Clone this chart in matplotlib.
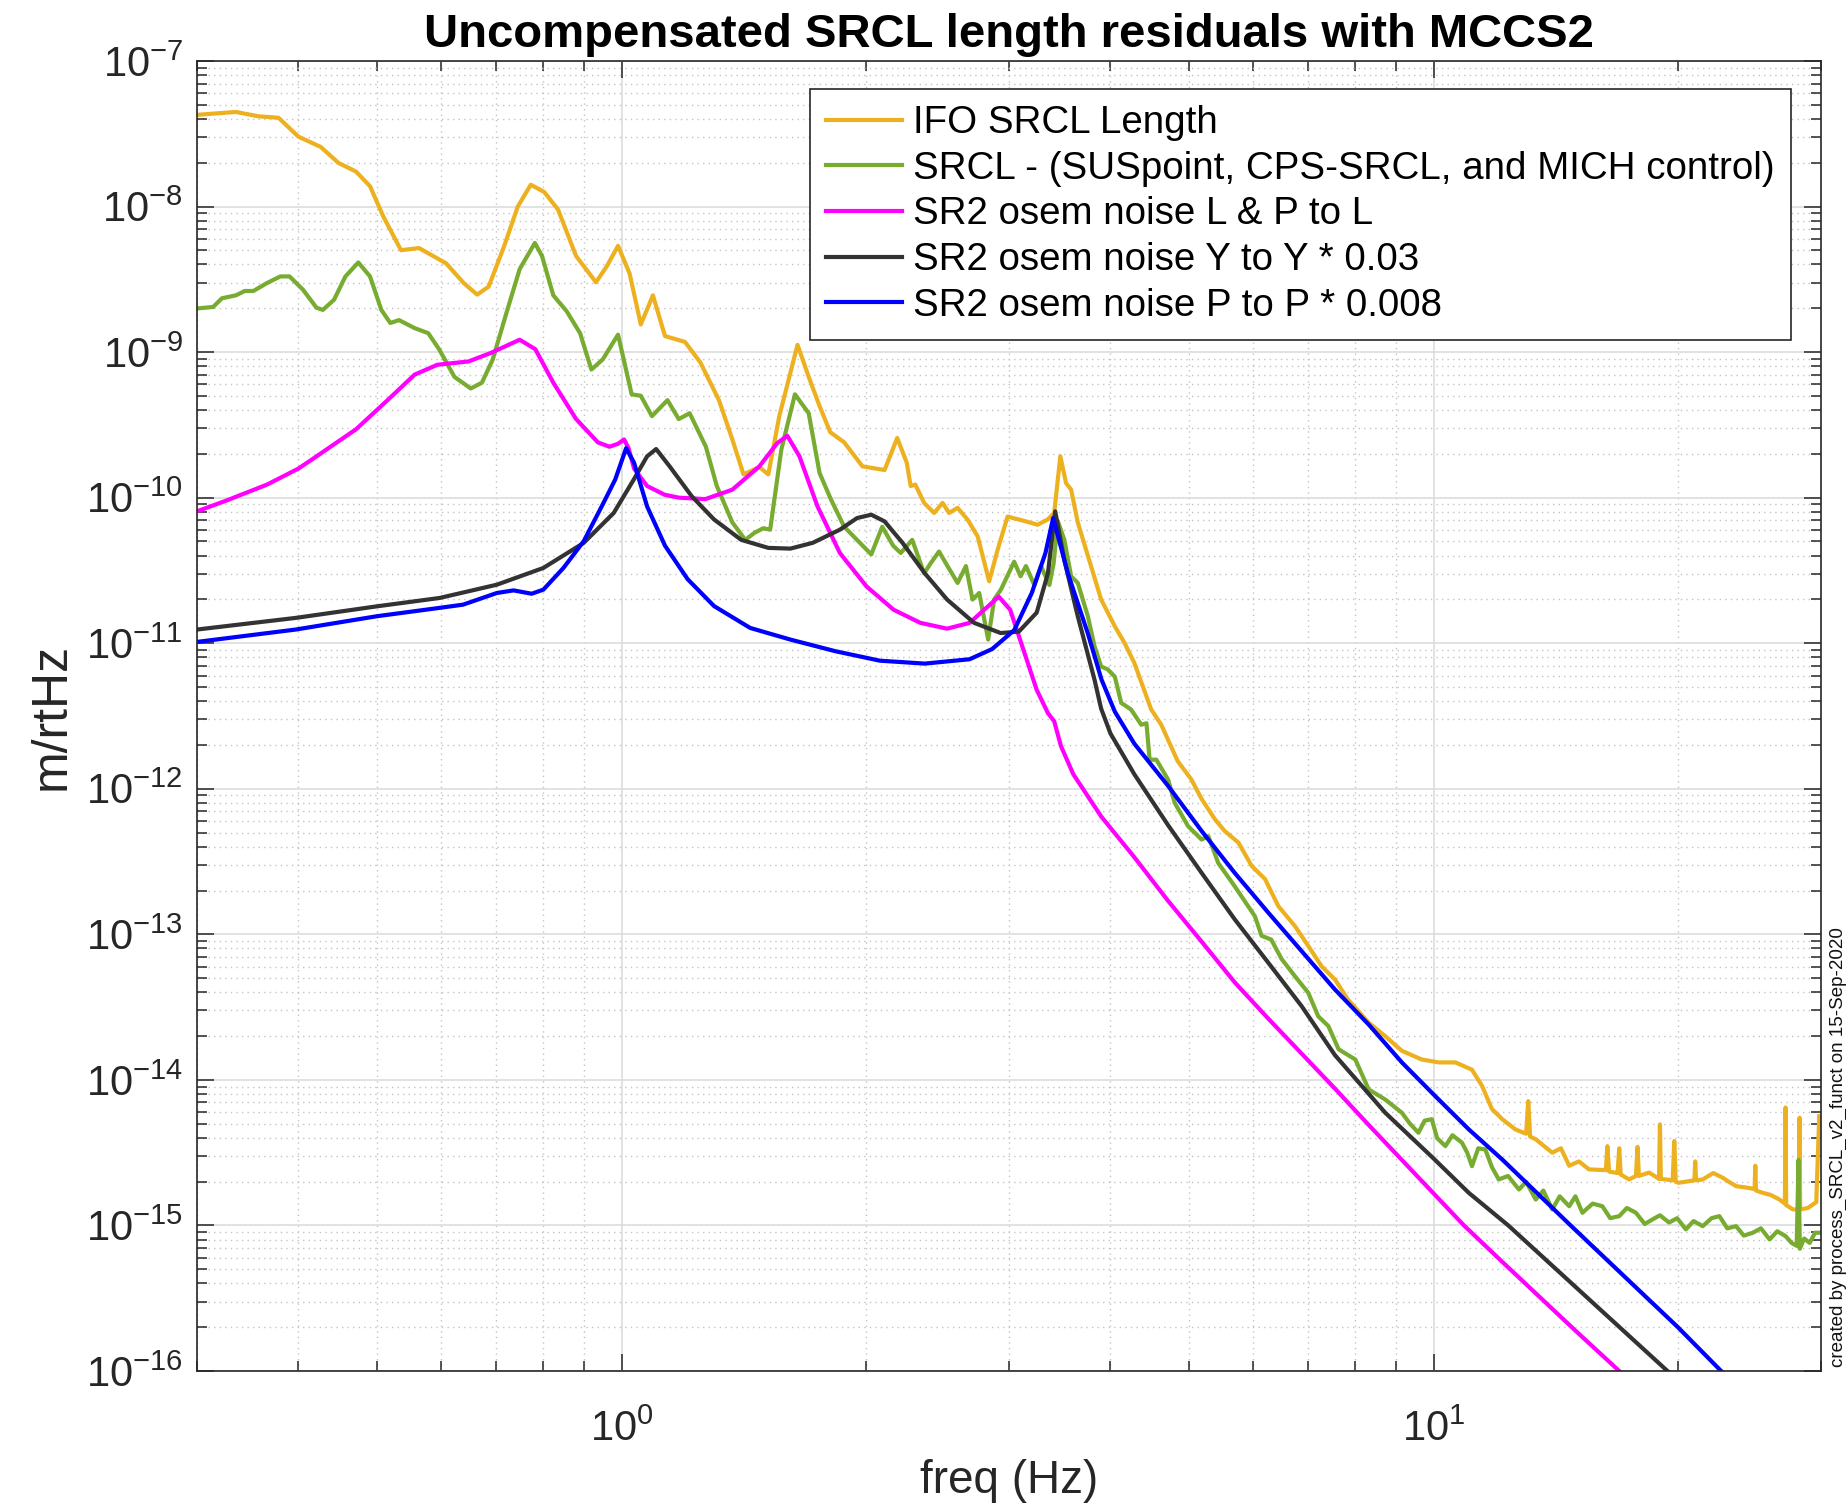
import numpy as np
import matplotlib
matplotlib.use("Agg")
import matplotlib.pyplot as plt
from matplotlib.ticker import FixedLocator, FuncFormatter, NullFormatter

# ---------------- data (frequency in Hz, value as log10 of m/rtHz) ----------------
ifo_f = [0.30, 0.335, 0.357, 0.378, 0.40, 0.426, 0.448, 0.471, 0.49, 0.509, 0.535, 0.563, 0.608,
         0.639, 0.664, 0.686, 0.717, 0.745, 0.773, 0.803, 0.835, 0.879, 0.93, 0.959, 0.99, 1.023,
         1.056, 1.093, 1.131, 1.197, 1.25, 1.318, 1.369, 1.413, 1.478, 1.516, 1.564, 1.647, 1.70,
         1.753, 1.807, 1.88, 1.98, 2.108, 2.185, 2.245, 2.27, 2.30, 2.358, 2.426, 2.485, 2.531,
         2.593, 2.667, 2.745, 2.836, 2.904, 2.988, 3.133, 3.253, 3.348, 3.41, 3.47, 3.527, 3.578,
         3.646, 3.752, 3.896, 4.05, 4.163, 4.28, 4.49, 4.62, 4.84, 5.03, 5.18, 5.38, 5.53, 5.75,
         5.97, 6.20, 6.44, 6.75, 7.01, 7.28, 7.56, 7.85, 8.32, 8.72, 9.14, 9.67, 10.15, 10.64,
         11.15, 11.47, 11.8, 12.15, 12.61, 13.0, 13.08, 13.15, 13.36, 14.0, 14.35, 14.69, 15.1,
         15.54, 16.3, 16.37, 16.45, 16.85, 16.93, 17.0, 17.41, 17.75, 17.83, 17.9, 18.43, 18.95,
         19.0, 19.05, 19.7, 19.79, 19.87, 20.03, 20.95, 21.0, 21.05, 21.45, 22.1, 22.7, 23.1,
         23.58, 24.3, 24.85, 24.9, 24.95, 25.43, 26.0, 26.67, 27.08, 27.13, 27.18, 27.7, 28.18,
         28.23, 28.28, 28.9, 29.6, 29.85]
ifo_exp = [-7.37, -7.35, -7.38, -7.39, -7.52, -7.59, -7.70, -7.76, -7.86, -8.07, -8.30, -8.285, -8.39,
           -8.525, -8.605, -8.55, -8.27, -8.00, -7.85, -7.90, -8.02, -8.34, -8.52, -8.41, -8.27, -8.46,
           -8.81, -8.61, -8.89, -8.93, -9.07, -9.33, -9.60, -9.84, -9.79, -9.84, -9.44, -8.95, -9.17,
           -9.37, -9.55, -9.62, -9.785, -9.81, -9.59, -9.76, -9.92, -9.91, -10.036, -10.105, -10.036, -10.105,
           -10.07, -10.15, -10.266, -10.575, -10.36, -10.13, -10.16, -10.186, -10.15, -10.105, -9.716, -9.90, -9.945,
           -10.17, -10.40, -10.70, -10.884, -10.998, -11.135, -11.455, -11.56, -11.81, -11.935, -12.07, -12.21, -12.29, -12.37,
           -12.53, -12.62, -12.807, -12.944, -13.08, -13.22, -13.31, -13.45, -13.607, -13.70, -13.80, -13.86, -13.88, -13.88,
           -13.93, -14.04, -14.20, -14.27, -14.34, -14.37, -14.146, -14.39, -14.408, -14.50, -14.47, -14.59, -14.56,
           -14.615, -14.62, -14.455, -14.63, -14.64, -14.47, -14.65, -14.684, -14.66, -14.46, -14.66, -14.637, -14.68,
           -14.306, -14.68, -14.69, -14.42, -14.70, -14.707, -14.69, -14.56, -14.69, -14.684, -14.64, -14.672, -14.70,
           -14.73, -14.74, -14.75, -14.59, -14.76, -14.776, -14.79, -14.822, -14.85, -14.19, -14.86, -14.89, -14.89,
           -14.26, -14.89, -14.88, -14.84, -14.25]

srcl_f = [0.30, 0.314, 0.322, 0.335, 0.3435, 0.352, 0.366, 0.38, 0.39, 0.405, 0.421, 0.4287, 0.4425,
          0.457, 0.474, 0.49, 0.506, 0.519, 0.532, 0.556, 0.578, 0.596, 0.6225, 0.652, 0.673, 0.694,
          0.7215, 0.749, 0.782, 0.798, 0.824, 0.856, 0.889, 0.918, 0.948, 0.99, 1.029, 1.056, 1.09,
          1.139, 1.176, 1.213, 1.27, 1.31, 1.369, 1.42, 1.459, 1.495, 1.524, 1.573, 1.635, 1.70,
          1.753, 1.81, 1.88, 1.95, 2.03, 2.094, 2.16, 2.207, 2.28, 2.358, 2.403, 2.46, 2.52, 2.593,
          2.655, 2.705, 2.757, 2.828, 2.876, 2.933, 3.044, 3.10, 3.148, 3.223, 3.285, 3.364, 3.405,
          3.445, 3.51, 3.578, 3.646, 3.752, 3.823, 3.896, 3.97, 4.05, 4.124, 4.24, 4.365, 4.43,
          4.47, 4.556, 4.71, 4.80, 4.985, 5.18, 5.28, 5.43, 5.69, 5.91, 6.025, 6.14, 6.31, 6.50,
          6.75, 7.01, 7.21, 7.42, 7.64, 8.01, 8.32, 8.72, 9.14, 9.35, 9.58, 9.75, 9.95, 10.1, 10.34,
          10.55, 10.84, 11.0, 11.15, 11.35, 11.58, 11.8, 12.03, 12.35, 12.74, 13.0, 13.36, 13.65,
          14.0, 14.3, 14.69, 14.95, 15.25, 15.7, 16.14, 16.5, 16.93, 17.3, 17.75, 18.2, 18.6, 19.0,
          19.5, 19.95, 20.45, 20.9, 21.45, 22.0, 22.49, 23.0, 23.58, 24.1, 24.73, 25.3, 25.93, 26.5,
          27.13, 27.6, 28.0, 28.15, 28.25, 28.6, 29.05, 29.5, 30.0]
srcl_exp = [-8.70, -8.69, -8.63, -8.61, -8.58, -8.58, -8.525, -8.48, -8.48, -8.57, -8.695, -8.71, -8.64,
            -8.48, -8.384, -8.48, -8.71, -8.80, -8.78, -8.835, -8.87, -8.98, -9.17, -9.25, -9.21, -9.05,
            -8.73, -8.43, -8.25, -8.34, -8.61, -8.72, -8.87, -9.12, -9.05, -8.88, -9.29, -9.30, -9.44,
            -9.33, -9.46, -9.42, -9.65, -9.92, -10.17, -10.29, -10.24, -10.21, -10.22, -9.67, -9.29, -9.42,
            -9.83, -10.01, -10.20, -10.29, -10.39, -10.20, -10.33, -10.38, -10.29, -10.52, -10.45, -10.37, -10.47, -10.586,
            -10.47, -10.70, -10.655, -10.975, -10.70, -10.63, -10.44, -10.54, -10.47, -10.60, -10.47, -10.60, -10.45,
            -10.16, -10.29, -10.54, -10.586, -10.815, -11.02, -11.16, -11.18, -11.23, -11.41, -11.455, -11.56, -11.55,
            -11.80, -11.80, -11.937, -12.097, -12.257, -12.349, -12.326, -12.51, -12.67, -12.807, -12.876, -13.01, -13.036, -13.17,
            -13.288, -13.402, -13.563, -13.63, -13.79, -13.86, -14.066, -14.135, -14.226, -14.30, -14.363, -14.28, -14.27, -14.40, -14.455,
            -14.38, -14.432, -14.50, -14.593, -14.47, -14.478, -14.60, -14.684, -14.66, -14.753, -14.70, -14.822, -14.76,
            -14.89, -14.80, -14.868, -14.80, -14.913, -14.85, -14.868, -14.95, -14.936, -14.88, -14.913, -14.99, -14.959, -14.93,
            -14.98, -14.95, -15.027, -14.97, -15.005, -14.95, -14.936, -15.02, -15.005, -15.07, -15.05, -15.02, -15.096, -15.04,
            -15.073, -15.12, -15.14, -14.55, -15.16, -15.09, -15.12, -15.05, -15.05]

lp_f = [0.30, 0.326, 0.366, 0.40, 0.415, 0.471, 0.515, 0.556, 0.593, 0.648, 0.69, 0.749, 0.783,
        0.824, 0.879, 0.935, 0.966, 0.99, 1.007, 1.02, 1.036, 1.075, 1.13, 1.176, 1.268, 1.369,
        1.478, 1.555, 1.60, 1.656, 1.743, 1.857, 2.003, 2.163, 2.333, 2.517, 2.683, 2.822, 2.914,
        3.01, 3.123, 3.245, 3.35, 3.41, 3.477, 3.60, 3.75, 3.896, 4.28, 4.71, 5.18, 5.69, 6.26,
        6.88, 7.56, 8.32, 9.14, 10.0, 10.9, 12.15, 13.5, 15.0, 16.93, 17.5]
lp_exp = [-10.094, -10.02, -9.91, -9.80, -9.74, -9.53, -9.33, -9.155, -9.087, -9.064, -9.006, -8.915, -8.98,
          -9.21, -9.46, -9.62, -9.65, -9.63, -9.60, -9.66, -9.80, -9.92, -9.98, -10.0, -10.01, -9.945,
          -9.785, -9.625, -9.575, -9.716, -10.06, -10.38, -10.61, -10.77, -10.86, -10.90, -10.86, -10.75, -10.68,
          -10.77, -11.04, -11.32, -11.48, -11.536, -11.708, -11.90, -12.05, -12.19, -12.47, -12.77, -13.05, -13.33, -13.58,
          -13.82, -14.06, -14.31, -14.55, -14.78, -15.0, -15.25, -15.49, -15.73, -16.0, -16.07]

yy_f = [0.30, 0.397, 0.499, 0.597, 0.702, 0.801, 0.898, 0.978, 1.035, 1.075, 1.103, 1.146, 1.22,
        1.30, 1.404, 1.516, 1.614, 1.72, 1.857, 1.95, 2.03, 2.108, 2.218, 2.363, 2.517, 2.717,
        2.93, 3.085, 3.245, 3.35, 3.42, 3.51, 3.646, 3.823, 3.896, 4.0, 4.28, 4.71, 5.18, 5.69, 6.26,
        6.88, 7.56, 8.72, 10.0, 11.05, 12.36, 19.41, 20.0]
yy_exp = [-10.906, -10.826, -10.747, -10.689, -10.598, -10.483, -10.311, -10.105, -9.876, -9.716, -9.666, -9.785, -9.99,
          -10.15, -10.29, -10.345, -10.35, -10.31, -10.22, -10.14, -10.117, -10.163, -10.31, -10.52, -10.70, -10.86,
          -10.93, -10.92, -10.79, -10.52, -10.094, -10.43, -10.815, -11.25, -11.45, -11.62, -11.90, -12.25, -12.578, -12.897, -13.196,
          -13.494, -13.83, -14.226, -14.54, -14.776, -15.0, -16.0, -16.07]

pp_f = [0.30, 0.397, 0.499, 0.597, 0.638, 0.702, 0.736, 0.775, 0.801, 0.848, 0.898, 0.95, 0.982,
        1.013, 1.036, 1.075, 1.131, 1.206, 1.30, 1.44, 1.614, 1.834, 2.08, 2.363, 2.683, 2.86,
        3.045, 3.20, 3.327, 3.40, 3.544, 3.75, 3.90, 4.05, 4.28, 4.71, 5.18, 5.69, 6.26, 6.88, 7.56,
        8.32, 9.14, 10.0, 11.05, 12.15, 14.75, 20.0, 22.6, 23.2]
pp_exp = [-10.991, -10.906, -10.815, -10.757, -10.735, -10.655, -10.637, -10.66, -10.632, -10.483, -10.30, -10.036, -9.876,
          -9.66, -9.76, -10.06, -10.33, -10.56, -10.745, -10.895, -10.975, -11.055, -11.12, -11.14, -11.11, -11.04,
          -10.91, -10.655, -10.38, -10.14, -10.517, -10.93, -11.25, -11.47, -11.69, -11.98, -12.29, -12.578, -12.852, -13.116, -13.379,
          -13.62, -13.88, -14.1, -14.34, -14.547, -15.0, -15.70, -16.0, -16.06]

labels = ["IFO SRCL Length",
          "SRCL - (SUSpoint, CPS-SRCL, and MICH control)",
          "SR2 osem noise L & P to L",
          "SR2 osem noise Y to Y * 0.03",
          "SR2 osem noise P to P * 0.008"]
colors = ["#EDB120", "#77AC30", "#FF00FF", "#333333", "#0000FF"]
series = [(ifo_f, ifo_exp), (srcl_f, srcl_exp), (lp_f, lp_exp), (yy_f, yy_exp), (pp_f, pp_exp)]

x_major = [1, 10]
x_minor = [0.3, 0.4, 0.5, 0.6, 0.7, 0.8, 0.9, 2, 3, 4, 5, 6, 7, 8, 9, 20, 30]
y_decades = list(range(-16, -6))

# ---------------- style ----------------
plt.rcParams['font.family'] = ['Liberation Sans', 'DejaVu Sans']
plt.rcParams['mathtext.fontset'] = 'custom'
plt.rcParams['mathtext.rm'] = 'Liberation Sans'
plt.rcParams['mathtext.it'] = 'Liberation Sans:italic'
plt.rcParams['mathtext.bf'] = 'Liberation Sans:bold'
plt.rcParams['mathtext.default'] = 'regular'

W, H = 1846, 1505
fig = plt.figure(figsize=(W / 100, H / 100), dpi=100)
ax_l, ax_r, ax_t, ax_b = 197, 1821, 61, 1371
ax = fig.add_axes([ax_l / W, 1 - ax_b / H, (ax_r - ax_l) / W, (ax_b - ax_t) / H])

for (f, e), c, lab in zip(series, colors, labels):
    ax.plot(f, 10.0 ** np.asarray(e), color=c, lw=3.0, label=lab, solid_joinstyle='round')

ax.set_xscale('log')
ax.set_yscale('log')
ax.set_xlim(0.3, 30)
ax.set_ylim(1e-16, 1e-7)

ax.xaxis.set_major_locator(FixedLocator(x_major))
ax.xaxis.set_minor_locator(FixedLocator(x_minor))
ax.yaxis.set_major_locator(FixedLocator([10.0 ** d for d in y_decades]))
ax.yaxis.set_minor_locator(FixedLocator([m * 10.0 ** d for d in y_decades[:-1] for m in range(2, 10)]))


def fmt(v, pos):
    n = int(round(np.log10(v)))
    return r'$10^{%d}$' % n


ax.xaxis.set_major_formatter(FuncFormatter(fmt))
ax.yaxis.set_major_formatter(FuncFormatter(fmt))
ax.xaxis.set_minor_formatter(NullFormatter())
ax.yaxis.set_minor_formatter(NullFormatter())

ax.grid(True, which='major', color='#dadada', linewidth=1.1, linestyle='-')
ax.grid(True, which='minor', color='#c4c4c4', linewidth=1.0, linestyle=(0, (1, 3)))
ax.set_axisbelow(True)

ax.tick_params(which='both', direction='in', top=True, right=True, colors='#262626', width=1.1)
ax.tick_params(which='major', length=12, labelsize=30, pad=10)
ax.tick_params(axis='x', which='major', pad=28)
ax.tick_params(which='minor', length=7)
for sp in ax.spines.values():
    sp.set_color('#262626')
    sp.set_linewidth(1.2)

ax.set_title('Uncompensated SRCL length residuals with MCCS2', fontsize=34, fontweight='bold', pad=10)
ax.set_xlabel('freq (Hz)', fontsize=33, labelpad=6, color='#262626')
ax.set_ylabel('m/rtHz', fontsize=36, labelpad=8, color='#262626')

leg = ax.legend(loc='upper right', bbox_to_anchor=((1791 - ax_l) / (ax_r - ax_l), (ax_b - 89) / (ax_b - ax_t)),
                fontsize=27.7, frameon=True, fancybox=False, edgecolor='#262626', framealpha=1,
                handlelength=1.97, handletextpad=0.3, labelspacing=0.25, borderpad=0.42, borderaxespad=0)
leg.get_frame().set_linewidth(1.2)

fig.text(1838 / W, 1 - 1367 / H, 'created by process_SRCL_v2_funct on 15-Sep-2020', rotation=90,
         ha='center', va='bottom', fontsize=13.5, color='#111111')

fig.savefig('out.png', dpi=100)
